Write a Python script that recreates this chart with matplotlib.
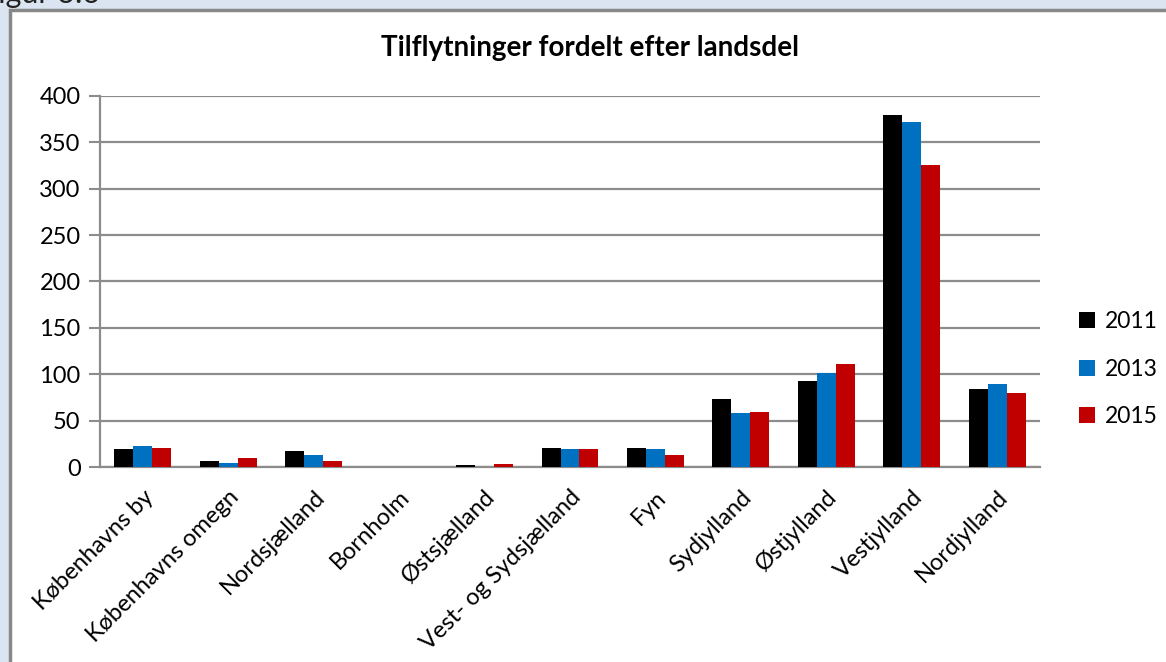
import numpy as np
import matplotlib
matplotlib.use("Agg")
from matplotlib import pyplot as plt
from matplotlib.patches import Rectangle

# data
landsdele = ["Københavns by", "Københavns omegn", "Nordsjælland", "Bornholm",
             "Østsjælland", "Vest- og Sydsjælland", "Fyn", "Sydjylland",
             "Østjylland", "Vestjylland", "Nordjylland"]
years = ["2011", "2013", "2015"]
v2011 = [19, 7, 17, 0, 2, 20, 20, 73, 93, 379, 84]
v2013 = [23, 4, 13, 0, 0, 19, 19, 58, 101, 372, 90]
v2015 = [20, 10, 7, 0, 3, 19, 13, 59, 111, 326, 80]
yticks = [0, 50, 100, 150, 200, 250, 300, 350, 400]

colors = ["#000000", "#0070C0", "#C00000"]
grid_col = "#8c8c8c"

plt.rcParams['font.family'] = ['Lato', 'DejaVu Sans']

fig = plt.figure(figsize=(11.66, 6.62), dpi=100)
fig.patch.set_facecolor("#dbe5f1")

# chart frame (white area with grey border)
W, H = 1166, 662
frame = Rectangle((10 / W, -0.05), 1.1, (H - 10) / H + 0.05, transform=fig.transFigure,
                  facecolor="white", edgecolor="#888888", linewidth=2.5, zorder=-5)
fig.patches.append(frame)

# caption above the chart, cut off by the crop
fig.text(-0.016, 0.995, "Figur 3.6", fontsize=22, va="baseline", ha="left", color="#222222")

ax = fig.add_axes([100 / W, 1 - 467 / H, 940 / W, 371 / H])
ax.set_facecolor("none")

x = np.arange(len(landsdele))
bw = 0.222
for i, (vals, col, lab) in enumerate(zip([v2011, v2013, v2015], colors, years)):
    ax.bar(x + (i - 1) * bw, vals, width=bw, color=col, label=lab, zorder=3)

ax.set_xlim(-0.5, len(landsdele) - 0.5)
ax.set_ylim(0, 400)
ax.set_yticks(yticks)
ax.set_yticklabels([str(t) for t in yticks], fontsize=17)
ax.yaxis.grid(True, color=grid_col, linewidth=1.6, zorder=0)
ax.tick_params(axis="y", length=8, width=1.5, color=grid_col, pad=6)
ax.tick_params(axis="x", length=0, pad=14)
ax.set_xticks(x)
ax.set_xticklabels(landsdele, rotation=45, ha="right", va="top",
                   rotation_mode="anchor", fontsize=17)

for s in ["top", "right"]:
    ax.spines[s].set_visible(False)
for s in ["left", "bottom"]:
    ax.spines[s].set_color(grid_col)
    ax.spines[s].set_linewidth(1.6)

fig.text(590 / W, 1 - 48 / H, "Tilflytninger fordelt efter landsdel",
         fontsize=20, fontweight="bold", ha="center", va="center")

ax.legend(loc="center left", bbox_to_anchor=(1.02, 0.264), frameon=False,
          fontsize=16.5, handlelength=0.7, handleheight=0.7, handletextpad=0.4,
          labelspacing=1.15)

fig.savefig("out.png", dpi=100, facecolor=fig.get_facecolor())
